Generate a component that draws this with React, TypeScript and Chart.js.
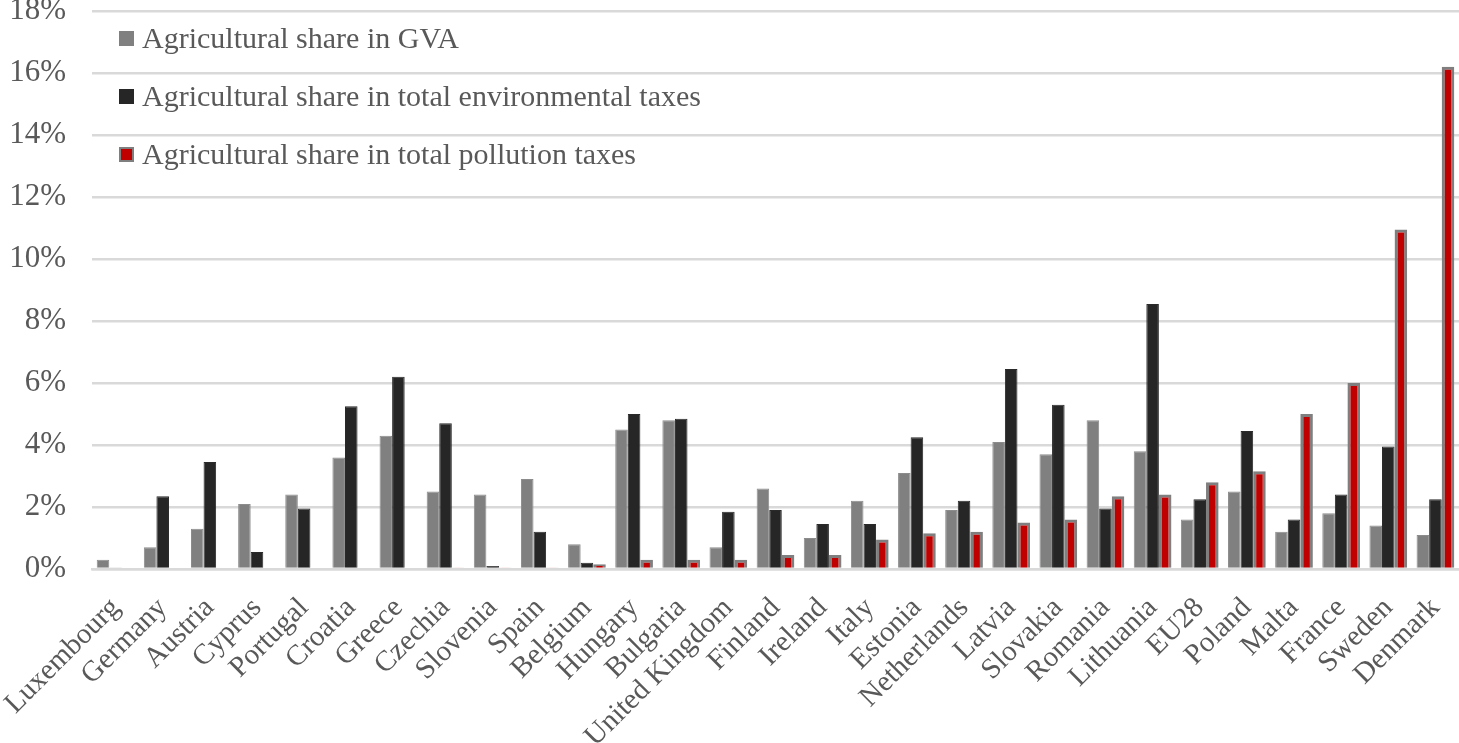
import React, { useEffect, useRef } from "react";
import { Chart, registerables } from "chart.js";

Chart.register(...registerables);

const countries = [
  "Luxembourg", "Germany", "Austria", "Cyprus", "Portugal", "Croatia", "Greece", "Czechia",
  "Slovenia", "Spain", "Belgium", "Hungary", "Bulgaria", "United Kingdom", "Finland", "Ireland",
  "Italy", "Estonia", "Netherlands", "Latvia", "Slovakia", "Romania", "Lithuania", "EU28",
  "Poland", "Malta", "France", "Sweden", "Denmark",
];

const gvaShare = [
  0.3, 0.7, 1.3, 2.1, 2.4, 3.6, 4.3, 2.5, 2.4, 2.9, 0.8, 4.5, 4.8, 0.7, 2.6, 1.0,
  2.2, 3.1, 1.9, 4.1, 3.7, 4.8, 3.8, 1.6, 2.5, 1.2, 1.8, 1.4, 1.1,
];

const envTaxShare = [
  0.03, 2.35, 3.45, 0.55, 1.95, 5.25, 6.2, 4.7, 0.1, 1.2, 0.2, 5.0, 4.85, 1.85, 1.9, 1.45,
  1.45, 4.25, 2.2, 6.45, 5.3, 1.95, 8.55, 2.25, 4.45, 1.6, 2.4, 3.95, 2.25,
];

const pollutionTaxShare = [
  0, 0, 0, 0, 0, 0, 0, 0.03, 0.05, 0.05, 0.15, 0.3, 0.3, 0.3, 0.45, 0.45,
  0.95, 1.15, 1.2, 1.5, 1.6, 2.35, 2.4, 2.8, 3.15, 5.0, 6.0, 10.95, 16.2,
];

const seriesNames = [
  "Agricultural share in GVA",
  "Agricultural share in total environmental taxes",
  "Agricultural share in total pollution taxes",
];

const yTicks = [0, 2, 4, 6, 8, 10, 12, 14, 16, 18];

const FONT = "'Liberation Serif', 'Times New Roman', serif";
const TEXT = "#595959";

export default function App() {
  const ref = useRef<HTMLCanvasElement | null>(null);

  useEffect(() => {
    if (!ref.current) return;
    const chart = new Chart(ref.current, {
      type: "bar",
      data: {
        labels: countries,
        datasets: [
          {
            label: seriesNames[0],
            data: gvaShare,
            backgroundColor: "#808080",
            borderColor: "#8c8c8c",
            borderWidth: 1,
          },
          {
            label: seriesNames[1],
            data: envTaxShare,
            backgroundColor: "#262626",
            borderColor: "#2a2a2a",
            borderWidth: 1,
          },
          {
            label: seriesNames[2],
            data: pollutionTaxShare,
            backgroundColor: "#c00000",
            borderColor: "#7f7f7f",
            borderWidth: 3,
          },
        ],
      },
      options: {
        animation: false,
        responsive: true,
        maintainAspectRatio: false,
        layout: { padding: { top: 0, right: 0, left: 0, bottom: 0 } },
        datasets: {
          bar: { categoryPercentage: 0.8, barPercentage: 1.0 },
        },
        plugins: {
          legend: { display: false },
          tooltip: { enabled: false },
        },
        scales: {
          x: {
            grid: { display: false, drawTicks: false },
            border: { display: true, color: "#d9d9d9", width: 2.5 },
            ticks: {
              autoSkip: false,
              minRotation: 45,
              maxRotation: 45,
              padding: 22,
              color: TEXT,
              font: { family: FONT, size: 29 },
            },
            afterFit: (scale: any) => {
              scale.height = 174;
              scale.paddingLeft = 0;
              scale.paddingRight = 0;
            },
          },
          y: {
            min: 0,
            max: 18,
            afterBuildTicks: (scale: any) => {
              scale.ticks = yTicks.map((v) => ({ value: v }));
            },
            grid: { color: "#d9d9d9", lineWidth: 2.5, drawTicks: false },
            border: { display: false },
            ticks: {
              padding: 26,
              color: TEXT,
              font: { family: FONT, size: 31 },
              callback: (v: any) => `${v}%`,
            },
            afterFit: (scale: any) => {
              scale.width = 92;
              scale.paddingTop = 11;
              scale.paddingBottom = 0;
            },
          },
        },
      },
    });
    return () => chart.destroy();
  }, []);

  const colors = [
    { bg: "#808080", border: "#8c8c8c" },
    { bg: "#262626", border: "#262626" },
    { bg: "#c00000", border: "#7f7f7f" },
  ];

  return (
    <div
      style={{
        position: "fixed",
        left: 0,
        top: 0,
        width: 1459,
        height: 743,
        background: "#ffffff",
      }}
    >
      <canvas ref={ref} />
      <div
        style={{
          position: "absolute",
          left: 119,
          top: 22,
          fontFamily: FONT,
          fontSize: 30,
          color: TEXT,
          lineHeight: "32px",
        }}
      >
        {seriesNames.map((name, i) => (
          <div
            key={name}
            style={{
              display: "flex",
              alignItems: "center",
              height: 32,
              marginBottom: 26,
              whiteSpace: "nowrap",
            }}
          >
            <span
              style={{
                display: "inline-block",
                width: i === 2 ? 11 : 15,
                height: i === 2 ? 11 : 15,
                background: colors[i].bg,
                border: i === 2 ? "2px solid #7f7f7f" : "none",
                marginRight: 8,
              }}
            />
            <span>{name}</span>
          </div>
        ))}
      </div>
    </div>
  );
}
